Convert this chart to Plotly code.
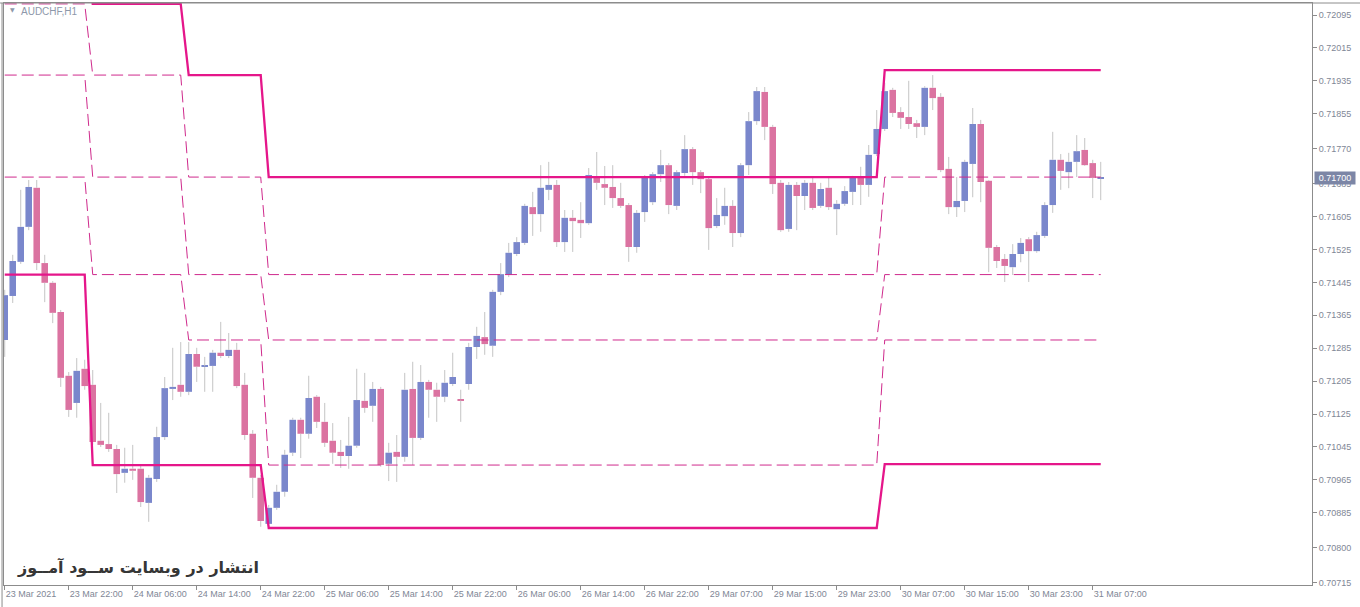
import plotly.graph_objects as go

# ---------------- data ----------------
bars = list(range(138))

opens = [0.71305, 0.71412, 0.71495, 0.71580, 0.71675, 0.71492, 0.71444, 0.71373, 0.71218, 0.71152,
         0.71235, 0.71196, 0.71060, 0.71052, 0.71040, 0.70982, 0.70992, 0.70992, 0.70909, 0.70967,
         0.71069, 0.71186, 0.71196, 0.71179, 0.71271, 0.71240, 0.71242, 0.71274, 0.71266, 0.71281,
         0.71196, 0.71077, 0.70970, 0.70858, 0.70897, 0.70936, 0.71031, 0.71111, 0.71077, 0.71167,
         0.71106, 0.71060, 0.71033, 0.71023, 0.71048, 0.71157, 0.71145, 0.71186, 0.71004, 0.71033,
         0.71021, 0.71186, 0.71067, 0.71203, 0.71184, 0.71167, 0.71198, 0.71161, 0.71198, 0.71288,
         0.71312, 0.71291, 0.71422, 0.71463, 0.71514, 0.71541, 0.71628, 0.71611, 0.71670, 0.71682,
         0.71543, 0.71602, 0.71597, 0.71589, 0.71701, 0.71684, 0.71677, 0.71650, 0.71633, 0.71531,
         0.71616, 0.71640, 0.71708, 0.71730, 0.71631, 0.71711, 0.71769, 0.71713, 0.71696, 0.71582,
         0.71606, 0.71631, 0.71565, 0.71730, 0.71837, 0.71908, 0.71823, 0.71687, 0.71575, 0.71682,
         0.71655, 0.71687, 0.71631, 0.71675, 0.71623, 0.71636, 0.71665, 0.71699, 0.71682, 0.71757,
         0.71818, 0.71913, 0.71859, 0.71847, 0.71832, 0.71823, 0.71918, 0.71896, 0.71721, 0.71628,
         0.71643, 0.71733, 0.71830, 0.71692, 0.71531, 0.71502, 0.71482, 0.71514, 0.71550, 0.71521,
         0.71558, 0.71633, 0.71743, 0.71713, 0.71738, 0.71767, 0.71735, 0.71697]

highs = [0.71427, 0.71512, 0.71670, 0.71694, 0.71694, 0.71512, 0.71448, 0.71378, 0.71227, 0.71261,
         0.71257, 0.71232, 0.71152, 0.71128, 0.71050, 0.71043, 0.71050, 0.70999, 0.70977, 0.71094,
         0.71215, 0.71286, 0.71300, 0.71300, 0.71286, 0.71264, 0.71281, 0.71349, 0.71322, 0.71298,
         0.71225, 0.71086, 0.70977, 0.70904, 0.70953, 0.71038, 0.71116, 0.71116, 0.71218, 0.71171,
         0.71152, 0.71103, 0.71062, 0.71118, 0.71235, 0.71225, 0.71203, 0.71191, 0.71055, 0.71074,
         0.71225, 0.71252, 0.71244, 0.71208, 0.71201, 0.71232, 0.71274, 0.71184, 0.71298, 0.71337,
         0.71373, 0.71427, 0.71492, 0.71541, 0.71555, 0.71636, 0.71665, 0.71730, 0.71738, 0.71694,
         0.71621, 0.71621, 0.71640, 0.71723, 0.71762, 0.71728, 0.71730, 0.71687, 0.71638, 0.71621,
         0.71706, 0.71713, 0.71767, 0.71735, 0.71718, 0.71803, 0.71774, 0.71718, 0.71701, 0.71650,
         0.71675, 0.71645, 0.71735, 0.71859, 0.71920, 0.71920, 0.71828, 0.71694, 0.71689, 0.71689,
         0.71694, 0.71699, 0.71687, 0.71699, 0.71645, 0.71679, 0.71704, 0.71726, 0.71779, 0.71864,
         0.71930, 0.71918, 0.71871, 0.71935, 0.71840, 0.71922, 0.71949, 0.71905, 0.71750, 0.71701,
         0.71743, 0.71869, 0.71840, 0.71694, 0.71536, 0.71514, 0.71538, 0.71553, 0.71555, 0.71568,
         0.71640, 0.71811, 0.71757, 0.71760, 0.71803, 0.71796, 0.71743, 0.71738]

lows = [0.71264, 0.71395, 0.71490, 0.71572, 0.71475, 0.71397, 0.71346, 0.71191, 0.71118, 0.71116,
        0.71184, 0.71050, 0.71045, 0.71033, 0.70933, 0.70958, 0.70965, 0.70899, 0.70863, 0.70960,
        0.71062, 0.71159, 0.71167, 0.71171, 0.71203, 0.71179, 0.71179, 0.71261, 0.71261, 0.71188,
        0.71062, 0.70921, 0.70851, 0.70851, 0.70892, 0.70924, 0.71023, 0.71018, 0.71065, 0.71091,
        0.71045, 0.71004, 0.70994, 0.70992, 0.71043, 0.71128, 0.71106, 0.70997, 0.70962, 0.70960,
        0.71009, 0.71001, 0.71062, 0.71116, 0.71106, 0.71154, 0.71193, 0.71106, 0.71184, 0.71259,
        0.71269, 0.71264, 0.71414, 0.71458, 0.71509, 0.71536, 0.71558, 0.71568, 0.71645, 0.71531,
        0.71519, 0.71519, 0.71553, 0.71585, 0.71670, 0.71633, 0.71626, 0.71626, 0.71495, 0.71517,
        0.71592, 0.71633, 0.71689, 0.71611, 0.71621, 0.71704, 0.71682, 0.71662, 0.71524, 0.71577,
        0.71585, 0.71531, 0.71555, 0.71706, 0.71828, 0.71791, 0.71660, 0.71568, 0.71568, 0.71572,
        0.71621, 0.71621, 0.71626, 0.71621, 0.71560, 0.71631, 0.71633, 0.71633, 0.71653, 0.71752,
        0.71813, 0.71847, 0.71818, 0.71818, 0.71796, 0.71803, 0.71864, 0.71713, 0.71611, 0.71604,
        0.71616, 0.71652, 0.71640, 0.71470, 0.71480, 0.71446, 0.71463, 0.71494, 0.71446, 0.71517,
        0.71553, 0.71614, 0.71670, 0.71674, 0.71701, 0.71728, 0.71650, 0.71645]

closes = [0.71414, 0.71497, 0.71580, 0.71677, 0.71492, 0.71444, 0.71371, 0.71213, 0.71135, 0.71230,
          0.71193, 0.71057, 0.71050, 0.71040, 0.70979, 0.70992, 0.70987, 0.70911, 0.70970, 0.71069,
          0.71188, 0.71191, 0.71179, 0.71271, 0.71240, 0.71242, 0.71274, 0.71266, 0.71281, 0.71193,
          0.71074, 0.70970, 0.70865, 0.70897, 0.70936, 0.71026, 0.71111, 0.71077, 0.71164, 0.71106,
          0.71055, 0.71031, 0.71023, 0.71048, 0.71159, 0.71140, 0.71186, 0.71001, 0.71031, 0.71021,
          0.71184, 0.71067, 0.71203, 0.71184, 0.71167, 0.71201, 0.71215, 0.71158, 0.71288, 0.71315,
          0.71295, 0.71422, 0.71465, 0.71517, 0.71543, 0.71631, 0.71611, 0.71675, 0.71682, 0.71543,
          0.71602, 0.71594, 0.71589, 0.71706, 0.71687, 0.71675, 0.71650, 0.71631, 0.71531, 0.71614,
          0.71699, 0.71708, 0.71730, 0.71633, 0.71713, 0.71769, 0.71713, 0.71696, 0.71577, 0.71609,
          0.71631, 0.71565, 0.71730, 0.71837, 0.71910, 0.71823, 0.71684, 0.71572, 0.71682, 0.71655,
          0.71687, 0.71626, 0.71672, 0.71628, 0.71636, 0.71667, 0.71699, 0.71682, 0.71755, 0.71818,
          0.71910, 0.71857, 0.71845, 0.71830, 0.71823, 0.71918, 0.71893, 0.71718, 0.71628, 0.71643,
          0.71738, 0.71830, 0.71689, 0.71529, 0.71497, 0.71485, 0.71514, 0.71541, 0.71521, 0.71560,
          0.71633, 0.71743, 0.71716, 0.71738, 0.71764, 0.71730, 0.71699, 0.71700]

# indicator levels (one value per period, periods start at these bars)
period_starts = [0, 11, 23, 33, 110]
level_upper_solid = [0.72290, 0.72122, 0.71949, 0.71701, 0.71961]
level_dash_1 = [0.72122, 0.71949, 0.71701, 0.71464, 0.71701]
level_dash_2 = [0.71949, 0.71701, 0.71464, 0.71305, 0.71464]
level_dash_3 = [0.71701, 0.71464, 0.71305, 0.71001, 0.71305]
level_lower_solid = [0.71464, 0.71001, 0.71001, 0.70848, 0.71003]

x_tick_bars = [0, 8, 16, 24, 32, 40, 48, 56, 64, 72, 80, 88, 96, 104, 112, 120, 128, 136]
x_tick_labels = ["23 Mar 2021", "23 Mar 22:00", "24 Mar 06:00", "24 Mar 14:00", "24 Mar 22:00",
                 "25 Mar 06:00", "25 Mar 14:00", "25 Mar 22:00", "26 Mar 06:00", "26 Mar 14:00",
                 "26 Mar 22:00", "29 Mar 07:00", "29 Mar 15:00", "29 Mar 23:00", "30 Mar 07:00",
                 "30 Mar 15:00", "30 Mar 23:00", "31 Mar 07:00"]

y_tick_labels = ["0.72095", "0.72015", "0.71935", "0.71855", "0.71770", "0.71685", "0.71605",
                 "0.71525", "0.71445", "0.71365", "0.71285", "0.71205", "0.71125", "0.71045",
                 "0.70965", "0.70885", "0.70800", "0.70715"]

symbol_label = "AUDCHF,H1"
last_price_label = "0.71700"
watermark = "انتشار در وبسایت ســود آمــوز"

# ---------------- styles ----------------
BULL = "#7a87cc"
BEAR = "#db73a1"
WICK = "#c4c4c4"
SOLID = "#e5168a"
DASH = "#cf2a8c"
AXIS = "#8c8c8c"
TXT = "#7f8796"

fig = go.Figure()

# wicks (parts outside the bodies)
wx, wy = [], []
for i, o, h, l, c in zip(bars, opens, highs, lows, closes):
    top, bot = max(o, c), min(o, c)
    wx += [i, i, None, i, i, None]
    wy += [top, h, None, l, bot, None]
fig.add_trace(go.Scatter(x=wx, y=wy, mode="lines", line=dict(color=WICK, width=1),
                         hoverinfo="skip", connectgaps=False))

# bodies
fig.add_trace(go.Bar(
    x=bars,
    y=[abs(c - o) for o, c in zip(opens, closes)],
    base=[min(o, c) for o, c in zip(opens, closes)],
    marker=dict(color=[BULL if c >= o else BEAR for o, c in zip(opens, closes)], line=dict(width=0)),
    width=0.82,
))


def expand(levels):
    out = []
    for b in bars:
        k = max(j for j, s in enumerate(period_starts) if s <= b)
        out.append(levels[k])
    return out


for lv, solid in [(level_dash_1, False), (level_dash_2, False), (level_dash_3, False),
                  (level_upper_solid, True), (level_lower_solid, True)]:
    fig.add_trace(go.Scatter(
        x=bars, y=expand(lv), mode="lines",
        line=dict(color=SOLID if solid else DASH, width=2.3 if solid else 1,
                  dash="solid" if solid else "12px,5px"),
        hoverinfo="skip"))

fig.update_layout(
    width=1360, height=607,
    margin=dict(l=4, r=48, t=3, b=22),
    paper_bgcolor="white", plot_bgcolor="white",
    showlegend=False,
    xaxis=dict(range=[-0.09, 163.41], tickvals=x_tick_bars, ticktext=x_tick_labels,
               ticks="outside", ticklen=4, tickcolor=AXIS, ticklabelposition="outside right",
               showline=True, linecolor=AXIS, mirror=True, showgrid=False, zeroline=False,
               tickfont=dict(family="Liberation Sans", size=9, color=TXT)),
    yaxis=dict(side="right", range=[0.707094, 0.721242],
               tickvals=[float(t) for t in y_tick_labels], ticktext=y_tick_labels,
               ticks="outside", ticklen=4, tickcolor=AXIS,
               showline=True, linecolor=AXIS, mirror=True, showgrid=False, zeroline=False,
               tickfont=dict(family="Liberation Sans", size=9, color=TXT)),
    annotations=[
        dict(xref="paper", yref="paper", x=0.003, y=0.988, text="▼", showarrow=False,
             xanchor="left", yanchor="middle", font=dict(family="DejaVu Sans", size=6, color="#8e98aa")),
        dict(xref="paper", yref="paper", x=0.0118, y=0.986, text=symbol_label, showarrow=False,
             xanchor="left", yanchor="middle", font=dict(family="Liberation Sans", size=10, color="#8e98aa")),
        dict(xref="paper", yref="y", x=1, xshift=2, y=float(last_price_label), text=last_price_label,
             showarrow=False, xanchor="left", yanchor="middle", bgcolor="#7c86a6", borderpad=1,
             width=38, font=dict(family="Liberation Sans", size=9, color="white")),
        dict(xref="paper", yref="paper", x=0.0085, y=0.031, text="<b>" + watermark + "</b>",
             showarrow=False, xanchor="left", yanchor="middle",
             font=dict(family="DejaVu Sans", size=16, color="#363636")),
    ],
    shapes=[
        dict(type="line", xref="paper", yref="paper", x0=-0.003, x1=1.04, y0=1, y1=1,
             line=dict(color=AXIS, width=1)),
        dict(type="line", xref="paper", yref="paper", x0=-0.0015, x1=-0.0015, y0=-0.04, y1=1,
             line=dict(color=AXIS, width=1)),
    ],
)

fig.write_html("out.html", config={"displayModeBar": False},
               post_script="document.body.style.margin='0';document.body.style.overflow='hidden';")
